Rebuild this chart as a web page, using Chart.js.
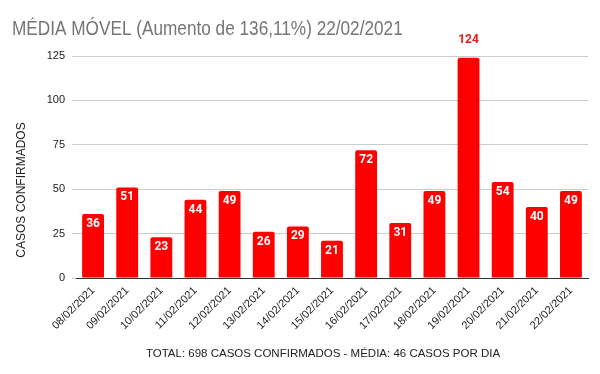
<!DOCTYPE html>
<html>
<head>
<meta charset="utf-8">
<script src="https://cdn.jsdelivr.net/npm/chart.js@4/dist/chart.umd.min.js"></script>
<style>
  html, body { margin: 0; padding: 0; background: #fff; }
  #wrap { width: 600px; height: 374px; position: relative; }
</style>
</head>
<body>
<div id="wrap"><canvas id="chart" width="600" height="374"></canvas></div>
<script>
// Chart data
const labels = [
  "08/02/2021", "09/02/2021", "10/02/2021", "11/02/2021", "12/02/2021",
  "13/02/2021", "14/02/2021", "15/02/2021", "16/02/2021", "17/02/2021",
  "18/02/2021", "19/02/2021", "20/02/2021", "21/02/2021", "22/02/2021",
];
const casos = [36, 51, 23, 44, 49, 26, 29, 21, 72, 31, 49, 124, 54, 40, 49];
const yTicks = [0, 25, 50, 75, 100, 125];

const titleText = "MÉDIA MÓVEL (Aumento de 136,11%) 22/02/2021";
const footerText = "TOTAL: 698 CASOS CONFIRMADOS - MÉDIA: 46 CASOS POR DIA";
const yTitle = "CASOS CONFIRMADOS";

const BAR_RED = "#ff0000";
const FONT = "'Liberation Sans', Arial, sans-serif";

// Draws title, footer, y axis title and the value labels on the bars
const textPlugin = {
  id: "textPlugin",
  afterDatasetsDraw(chart) {
    const ctx = chart.ctx;
    const meta = chart.getDatasetMeta(0);
    ctx.save();
    ctx.font = "bold 12px Roboto, 'Liberation Sans', sans-serif";
    ctx.textAlign = "center";
    ctx.textBaseline = "middle";
    meta.data.forEach((bar, i) => {
      const v = casos[i];
      if (bar.y - chart.chartArea.top < 10) {
        ctx.fillStyle = "#e02020";
        ctx.fillText(v, bar.x, bar.y - 18);
      } else {
        ctx.fillStyle = "#ffffff";
        ctx.fillText(v, bar.x, bar.y + 10);
      }
    });

    ctx.textAlign = "center";
    ctx.textBaseline = "alphabetic";
    ctx.fillStyle = "#222222";
    ctx.font = "11.5px " + FONT;
    ctx.fillText(footerText, 323, 357);

    // y axis title
    ctx.save();
    ctx.font = "12px " + FONT;
    ctx.translate(22, 190);
    ctx.rotate(-Math.PI / 2);
    ctx.textBaseline = "middle";
    ctx.fillText(yTitle, 0, 0);
    ctx.restore();

    // title, a little narrow like the original
    ctx.textAlign = "left";
    ctx.fillStyle = "#757575";
    ctx.font = "20px " + FONT;
    ctx.translate(12, 35);
    ctx.scale(0.86, 1);
    ctx.fillText(titleText, 0, 0);
    ctx.restore();
  },
};

new Chart(document.getElementById("chart"), {
  type: "bar",
  data: {
    labels: labels,
    datasets: [
      {
        data: casos,
        backgroundColor: BAR_RED,
        borderRadius: 2,
        borderSkipped: "bottom",
        barPercentage: 0.64,
        categoryPercentage: 1.0,
      },
    ],
  },
  options: {
    responsive: false,
    animation: false,
    layout: { padding: { top: 56, left: 8, right: 12, bottom: 0 } },
    plugins: {
      legend: { display: false },
      tooltip: { enabled: false },
    },
    scales: {
      x: {
        afterFit: (scale) => { scale.height = 96; },
        grid: { display: false, drawTicks: false },
        border: { display: true, color: "#333333", width: 1 },
        ticks: {
          color: "#222222",
          font: { family: FONT, size: 11 },
          minRotation: 45,
          maxRotation: 45,
          padding: 6,
          autoSkip: false,
        },
      },
      y: {
        min: 0,
        max: 125,
        afterFit: (scale) => { scale.width = 68; },
        afterBuildTicks: (scale) => {
          scale.ticks = yTicks.map((v) => ({ value: v }));
        },
        grid: { color: "#cccccc", tickLength: 4, tickColor: "#cccccc" },
        border: { display: false },
        ticks: {
          color: "#222222",
          font: { family: FONT, size: 11 },
          padding: 7,
        },
      },
    },
  },
  plugins: [textPlugin],
});
</script>
</body>
</html>
